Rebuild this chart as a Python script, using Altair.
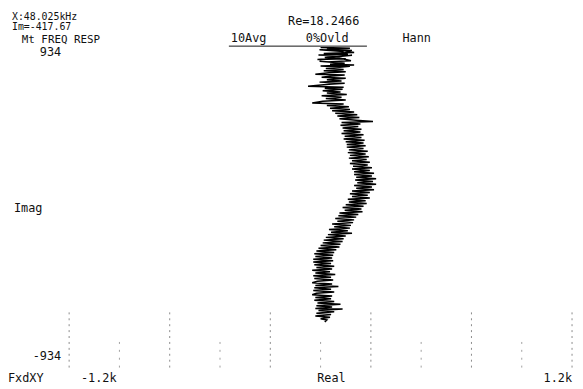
import altair as alt
import pandas as pd

# Nyquist trace: (Real, Imag) pairs, top to bottom
trace_points = [
    (0, 932), (140, 928), (30, 921), (150, 915), (-5, 918), (110, 908), (60, 925), (160, 903),
    (15, 897), (130, 893), (-10, 888), (100, 880), (150, 886), (20, 874), (120, 866), (-15, 862),
    (90, 870), (145, 855), (30, 848), (-5, 852), (115, 840), (45, 834), (160, 830), (0, 824),
    (95, 818), (140, 822), (25, 810), (110, 804),
    (15, 796), (120, 790), (40, 784), (-25, 776), (115, 771), (55, 765), (5, 758), (120, 752),
    (30, 744), (100, 737), (-5, 730), (115, 724), (40, 717), (-60, 706), (110, 700), (20, 694),
    (105, 688), (10, 680), (95, 673), (30, 666), (125, 658), (5, 650), (100, 642), (25, 634),
    (120, 626), (10, 618), (-40, 608), (110, 602), (30, 594), (135, 586),
    (45, 578), (140, 571), (55, 563), (160, 556), (70, 548), (175, 540), (80, 532), (185, 524),
    (90, 516), (170, 508), (250, 500), (100, 494), (190, 486),
    (95, 478), (180, 471), (105, 463), (195, 455), (110, 447), (190, 439), (100, 431), (205, 423),
    (115, 415), (195, 407), (110, 399), (210, 391),
    (120, 383), (205, 375), (125, 367), (215, 359), (125, 351), (205, 343), (135, 335), (225, 327),
    (130, 319), (215, 311), (140, 303), (230, 295), (135, 287), (220, 279), (150, 271), (235, 263),
    (140, 255), (225, 247),
    (155, 239), (245, 231), (150, 223), (235, 215), (160, 207), (255, 199), (160, 191), (245, 183),
    (170, 175), (265, 167), (165, 159), (250, 151), (175, 143), (265, 135), (160, 127), (245, 119),
    (170, 111), (255, 103),
    (150, 95), (235, 87), (140, 79), (225, 71), (150, 63), (235, 55), (130, 47), (215, 39),
    (135, 31), (220, 23), (120, 15), (205, 7), (105, -1), (195, -9), (115, -17), (200, -25),
    (90, -33), (180, -41),
    (85, -49), (170, -57), (70, -65), (160, -73), (80, -81), (155, -89), (55, -97), (145, -105),
    (65, -113), (140, -121), (40, -129), (130, -137), (50, -145), (150, -151), (35, -159), (120, -167),
    (25, -175), (110, -183), (15, -191), (105, -199), (10, -207), (95, -215),
    (0, -223), (90, -231), (-10, -239), (75, -247), (-20, -255), (65, -263), (-30, -271), (60, -279),
    (-25, -287), (55, -295), (-35, -303),
    (60, -311), (-35, -319), (50, -327), (-30, -335), (65, -343), (-20, -351), (55, -359), (-40, -367),
    (45, -375), (-25, -383), (70, -391), (-35, -399), (50, -407), (-30, -415), (60, -423), (-15, -431),
    (-40, -439), (55, -447), (-25, -455), (85, -461), (-30, -469), (50, -477), (-35, -485), (65, -493),
    (-20, -501), (-40, -509), (55, -517), (-25, -525), (50, -533),
    (-30, -541), (65, -549), (-15, -557), (95, -565), (-20, -573), (55, -581), (-25, -589), (105, -593),
    (-10, -601), (65, -609), (-20, -617), (50, -625), (-25, -633), (45, -641), (0, -649), (30, -656),
    (20, -668),
]

x_domain = [-1200, 1200]
y_domain = [-934, 934]
major_ticks = [-1200, -720, -240, 240, 720, 1200]
minor_ticks = [-960, -480, 0, 480, 960]

FONT = "DejaVu Sans Mono"
INK = "#111111"

df = pd.DataFrame(trace_points, columns=["real", "imag"])
df["i"] = range(len(df))

xs = alt.Scale(domain=x_domain, nice=False, zero=False)
ys = alt.Scale(domain=y_domain, nice=False, zero=False)

trace = alt.Chart(df).mark_line(color="black", strokeWidth=1.5, clip=True).encode(
    x=alt.X("real:Q", scale=xs, axis=None),
    y=alt.Y("imag:Q", scale=ys, axis=None),
    order="i:Q",
)

major_df = pd.DataFrame({"real": major_ticks, "y0": [-934] * 6, "y1": [-600] * 6})
minor_df = pd.DataFrame({"real": minor_ticks, "y0": [-934] * 5, "y1": [-780] * 5})

major = alt.Chart(major_df).mark_rule(
    color="#8a8a8a", strokeDash=[2, 4], strokeWidth=1
).encode(x=alt.X("real:Q", scale=xs, axis=None), y=alt.Y("y0:Q", scale=ys, axis=None), y2="y1:Q")

minor = alt.Chart(minor_df).mark_rule(
    color="#a0a0a0", strokeDash=[2, 6], strokeWidth=1
).encode(x=alt.X("real:Q", scale=xs, axis=None), y=alt.Y("y0:Q", scale=ys, axis=None), y2="y1:Q")

underline = alt.Chart(pd.DataFrame({"a": [0]})).mark_rule(color=INK, strokeWidth=1).encode(
    x=alt.value(162), x2=alt.value(302), y=alt.value(-1)
)


def label(text, x, y, align="left", size=12, baseline="middle"):
    return alt.Chart(pd.DataFrame({"t": [text]})).mark_text(
        align=align, baseline=baseline, font=FONT, fontSize=size, color=INK
    ).encode(text="t:N", x=alt.value(x), y=alt.value(y))


texts = [
    label("X:48.025kHz", -58, -36, size=10, baseline="top"),
    label("Im=-417.67", -58, -25, size=10, baseline="top"),
    label("Mt FREQ RESP", -48, -7, size=11),
    label("Re=18.2466", 222, -26),
    label("10Avg", 164, -9),
    label("0%Ovld", 240, -9),
    label("Hann", 338, -9),
    label("934", -8, 5, align="right"),
    label("Imag", -56, 163),
    label("-934", -8, 313, align="right"),
    label("FxdXY", -62, 336),
    label("-1.2k", 12, 336),
    label("Real", 266, 336, align="center"),
    label("1.2k", 510, 336, align="right"),
]

chart = alt.layer(major, minor, underline, trace, *texts).properties(
    width=510,
    height=325,
    padding={"left": 62, "top": 37, "right": 3, "bottom": 16},
    autosize=alt.AutoSizeParams(type="none"),
    background="white",
).configure_view(stroke=None)

chart.save("out.html", embed_options={"renderer": "svg", "actions": False})
